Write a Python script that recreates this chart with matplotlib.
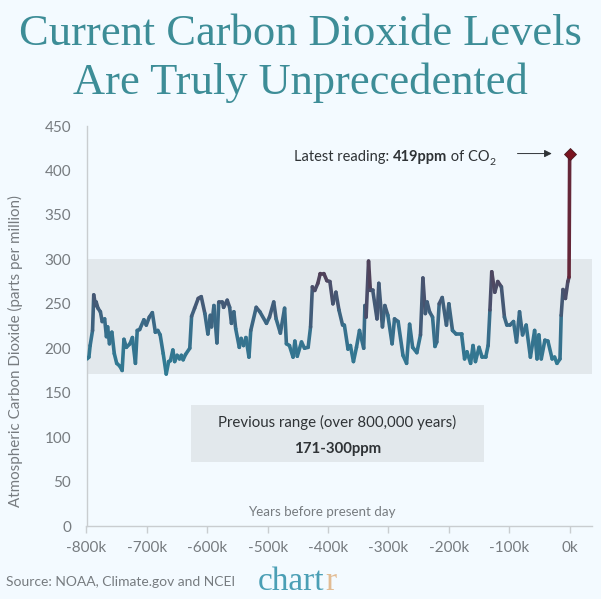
import numpy as np
import matplotlib
matplotlib.use("Agg")
import matplotlib.pyplot as plt
from matplotlib.collections import LineCollection
from matplotlib.colors import LinearSegmentedColormap

# years before present (thousands) and CO2 ppm
years = [-799, -796, -794, -790, -788, -785, -784, -781, -777, -774, -770, -767, -765, -762, -758, -754, -750, -745,
         -741, -738, -734, -728, -724, -719, -716, -712, -705, -701, -696, -691, -686, -682, -678, -673, -668, -664,
         -661, -657, -654, -650, -646, -643, -640, -636, -629, -626, -621, -615, -610, -604, -599, -595, -593, -589,
         -584, -581, -575, -573, -567, -563, -560, -556, -553, -547, -544, -540, -536, -531, -528, -519, -513, -502,
         -497, -490, -486, -479, -472, -469, -464, -458, -455, -451, -444, -439, -433, -429, -426, -422, -417, -413,
         -407, -402, -397, -392, -387, -382, -376, -373, -367, -363, -358, -353, -348, -341, -339, -337, -333, -330,
         -326, -319, -316, -310, -306, -301, -294, -290, -284, -276, -270, -265, -260, -253, -247, -243, -239, -236,
         -232, -227, -223, -220, -216, -211, -204, -200, -194, -188, -179, -174, -170, -164, -160, -156, -150, -145,
         -139, -135, -132, -129, -124, -119, -113, -108, -104, -99, -93, -88, -83, -78, -72, -65, -58, -54, -51, -47,
         -41, -36, -29, -25, -21, -16, -14, -11, -7, -3, -1, 0]
ppm = [188, 190, 203, 220, 260, 248, 252, 245, 241, 230, 233, 213, 224, 205, 218, 194, 183, 180,
       175, 210, 201, 205, 212, 183, 220, 221, 232, 226, 235, 240, 218, 220, 215, 194, 171, 185,
       186, 198, 185, 192, 188, 192, 187, 193, 200, 236, 245, 256, 258, 239, 216, 237, 224, 248,
       206, 252, 252, 246, 254, 246, 228, 241, 222, 201, 211, 203, 212, 190, 220, 246, 241, 228,
       235, 252, 233, 217, 245, 205, 203, 190, 208, 191, 207, 200, 201, 224, 269, 265, 273, 284,
       284, 276, 275, 250, 263, 243, 226, 226, 199, 203, 185, 201, 220, 200, 248, 235, 298, 265,
       265, 233, 273, 224, 248, 237, 205, 233, 230, 192, 183, 227, 201, 195, 215, 279, 239, 252,
       241, 235, 202, 207, 250, 257, 226, 250, 220, 216, 216, 188, 196, 183, 203, 185, 201, 190,
       190, 203, 243, 286, 263, 275, 269, 235, 226, 226, 230, 207, 241, 215, 226, 190, 220, 188, 215, 188,
       209, 208, 188, 190, 183, 188, 237, 266, 256, 275, 280, 419]

latest_year = 0
latest_ppm = 419
range_low = 171
range_high = 300

xticks = [-800, -700, -600, -500, -400, -300, -200, -100, 0]
xticklabels = ["-800k", "-700k", "-600k", "-500k", "-400k", "-300k", "-200k", "-100k", "0k"]
yticks = [0, 50, 100, 150, 200, 250, 300, 350, 400, 450]

BG = "#f3faff"
BAND = "#e2e8ec"
TEAL = "#3d8d97"
GREY = "#777c80"
DARK = "#2f3336"

plt.rcParams["font.family"] = ["Lato", "DejaVu Sans"]

fig = plt.figure(figsize=(6.01, 5.99), dpi=100, facecolor=BG)
W, H = 601, 599
ax = fig.add_axes([86.5 / W, (H - 526) / H, (592 - 86.5) / W, 400 / H], facecolor=BG)
ax.set_xlim(-800, 37)
ax.set_ylim(0, 450)


def fy(py):
    return 1 - py / H


# shaded range and its label box
ax.axhspan(range_low, range_high, color=BAND, lw=0, zorder=1)
ax.fill_between([-627, -142], 72, 136, color=BAND, lw=0, zorder=1)
ax.text(-385, 117, "Previous range (over 800,000 years)", ha="center", va="center", fontsize=10.8, color=DARK)
ax.text(-385, 87, "171-300ppm", ha="center", va="center", fontsize=10.8, color=DARK, fontweight="bold")

# line coloured by level, teal at the bottom through to maroon
cmap = LinearSegmentedColormap.from_list("co2", [(0, "#2f7d95"), (0.2, "#376f8c"), (0.38, "#4a4f6b"),
                                                 (0.5, "#55374c"), (1, "#7a1420")])
x = np.array(years, dtype=float)
y = np.array(ppm, dtype=float)
pts = np.column_stack([x, y]).reshape(-1, 1, 2)
segs = np.concatenate([pts[:-1], pts[1:]], axis=1)
lc = LineCollection(segs, cmap=cmap, norm=plt.Normalize(170, 419), linewidth=2.6, capstyle="round",
                    joinstyle="round", zorder=3)
lc.set_array((y[:-1] + y[1:]) / 2)
ax.add_collection(lc)
ax.plot([latest_year], [latest_ppm], marker="D", ms=6.5, color="#7a1420", mec="#4a1a22", mew=0.6, zorder=4, ls="none")

ax.annotate("", xy=(-25, latest_ppm), xytext=(-91, latest_ppm),
            arrowprops=dict(arrowstyle="-|>", color=DARK, lw=0.7, mutation_scale=11))

# axis styling
ax.set_xticks(xticks, xticklabels)
ax.set_yticks(yticks)
ax.tick_params(axis="x", length=5, width=1, color="#c9cdd0", labelcolor=GREY, labelsize=11, pad=6)
ax.tick_params(axis="y", length=0, labelcolor=GREY, labelsize=11, pad=11)
for s in ["top", "right"]:
    ax.spines[s].set_visible(False)
for s in ["left", "bottom"]:
    ax.spines[s].set_color("#c9cdd0")
    ax.spines[s].set_linewidth(1)

fig.text(15 / W, fy(351), "Atmospheric Carbon Dioxide (parts per million)", rotation=90, ha="center", va="center",
         fontsize=10.9, color=GREY)
fig.text(322 / W, fy(512), "Years before present day", ha="center", va="center", fontsize=9.6, color=GREY)


# text runs placed one after another
def run(parts, px, py):
    r = fig.canvas.get_renderer()
    for s, kw in parts:
        t = fig.text(px / W, fy(py), s, va="baseline", color=DARK, **kw)
        px = t.get_window_extent(r).x1


run([("Latest reading: ", dict(fontsize=10.5)), ("419ppm", dict(fontsize=10.5, fontweight="bold")),
     (" of CO", dict(fontsize=10.5))], 294, 161)
fig.text(489 / W, fy(165), "2", fontsize=7.5, color=DARK, va="baseline")

# title
for s, py in [("Current Carbon Dioxide Levels", 34), ("Are Truly Unprecedented", 83)]:
    fig.text(300 / W, fy(py), s, ha="center", va="center", fontsize=32, color=TEAL, family="Liberation Serif")

fig.text(6 / W, fy(582), "Source: NOAA, Climate.gov and NCEI", ha="left", va="center", fontsize=10, color=GREY)

# logo, baseline a little high so the text box stays inside the figure
fig.text(258 / W, fy(590), "chart", fontsize=24, color="#4b9fb5", family="Liberation Serif", va="baseline")
fig.text(325 / W, fy(590), "r", fontsize=24, color="#e2bc94", family="Liberation Serif", va="baseline")

fig.savefig("out.png", dpi=100, facecolor=BG)
